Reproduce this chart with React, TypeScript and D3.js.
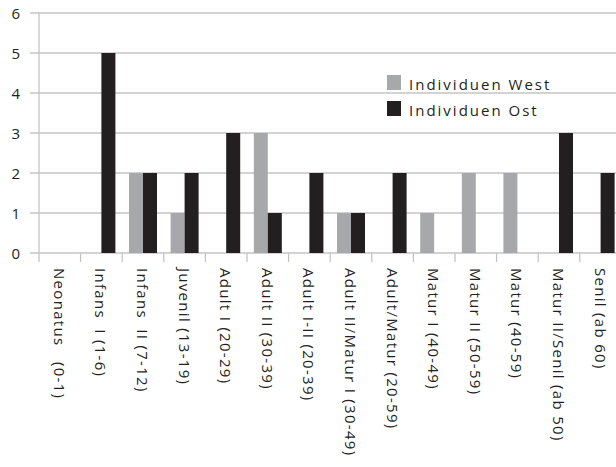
import React from "react";
import * as d3 from "d3";

const categories = [
  "Neonatus   (0-1)",
  "Infans  I (1-6)",
  "Infans  II (7-12)",
  "Juvenil (13-19)",
  "Adult I (20-29)",
  "Adult II (30-39)",
  "Adult I-II (20-39)",
  "Adult II/Matur I (30-49)",
  "Adult/Matur (20-59)",
  "Matur I (40-49)",
  "Matur II (50-59)",
  "Matur (40-59)",
  "Matur II/Senil (ab 50)",
  "Senil (ab 60)",
];
const west = [0, 0, 2, 1, 0, 3, 0, 1, 0, 1, 2, 2, 0, 0];
const ost = [0, 5, 2, 2, 3, 1, 2, 1, 2, 0, 0, 0, 3, 2];
const seriesNames = ["Individuen West", "Individuen Ost"];
const yTicks = [0, 1, 2, 3, 4, 5, 6];

const W = 616;
const H = 467;
const GREY = "#a7a8ab";
const BLACK = "#231f20";
const GRID = "#c4c4c4";
const FONT = "'Open Sans', sans-serif";

export default function App() {
  const x0 = 39;
  const band = 41.6;
  const x = d3
    .scaleBand<string>()
    .domain(categories)
    .range([x0, x0 + band * categories.length])
    .paddingInner(0)
    .paddingOuter(0);
  const y = d3.scaleLinear().domain([0, 6]).range([253, 13]);
  const barW = 14;
  const series = [
    { name: seriesNames[0], values: west, color: GREY, off: -barW },
    { name: seriesNames[1], values: ost, color: BLACK, off: 0 },
  ];

  return (
    <svg
      width={W}
      height={H}
      style={{ position: "absolute", left: 0, top: 0, background: "#fff" }}
    >
      <rect x={0} y={0} width={W} height={H} fill="#fff" />
      {yTicks.map((t) => (
        <g key={t}>
          <line x1={30} x2={W} y1={y(t)} y2={y(t)} stroke={GRID} strokeWidth={1.3} />
          <text
            x={20}
            y={y(t)}
            textAnchor="end"
            dominantBaseline="central"
            fontFamily={FONT}
            fontSize={15}
            fill={BLACK}
          >
            {t}
          </text>
        </g>
      ))}
      <line x1={x0} x2={x0} y1={y(6)} y2={y(0) + 9} stroke={GRID} strokeWidth={1.3} />
      {categories.map((c, i) => (
        <line
          key={"tk" + i}
          x1={(x(c) as number) + band}
          x2={(x(c) as number) + band}
          y1={y(0)}
          y2={y(0) + 9}
          stroke={GRID}
          strokeWidth={1.3}
        />
      ))}
      {series.map((s) =>
        categories.map((c, i) => {
          const v = s.values[i];
          if (!v) return null;
          const cx = (x(c) as number) + x.bandwidth() / 2;
          return (
            <rect
              key={s.name + i}
              x={cx + s.off}
              y={y(v)}
              width={barW}
              height={y(0) - y(v)}
              fill={s.color}
            />
          );
        })
      )}
      {categories.map((c) => {
        const cx = (x(c) as number) + x.bandwidth() / 2;
        return (
          <text
            key={"lb" + c}
            transform={`translate(${cx},268) rotate(90)`}
            dominantBaseline="central"
            fontFamily={FONT}
            fontSize={15}
            letterSpacing={1.3}
            fill={BLACK}
            style={{ whiteSpace: "pre" }}
          >
            {c}
          </text>
        );
      })}
      {series.map((s, i) => (
        <g key={"lg" + i} transform={`translate(387,${75 + i * 26})`}>
          <rect x={0} y={0} width={14} height={15} fill={s.color} />
          <text
            x={22}
            y={15}
            fontFamily={FONT}
            fontSize={15}
            letterSpacing={2}
            fill={BLACK}
          >
            {s.name}
          </text>
        </g>
      ))}
    </svg>
  );
}
